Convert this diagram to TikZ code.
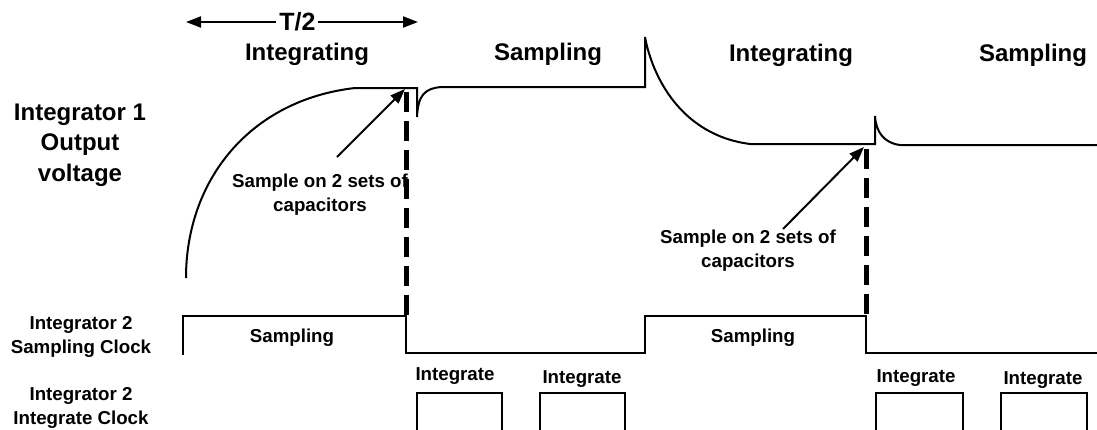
\documentclass[tikz,border=0pt]{standalone}
\usepackage{fontspec}
\setmainfont{Liberation Sans}
\usetikzlibrary{arrows.meta}

\tikzset{
  wave/.style={line width=2pt},
  clock/.style={line width=2.4pt},
  marker/.style={line width=5pt,dash pattern=on 20pt off 9pt},
  pointer/.style={line width=2pt,->},
  big/.style={font=\fontsize{24}{30.5}\selectfont\bfseries,align=center,inner sep=0pt},
  small/.style={font=\fontsize{18.7}{23.5}\selectfont\bfseries,align=center,inner sep=0pt},
}

\begin{document}
\begin{tikzpicture}[line join=miter,>={Triangle[length=15pt,width=11pt]},x=1pt,y=-1pt]
		\useasboundingbox (0,0) rectangle (1097,429);
		% half period span
		\coordinate (span0) at (186,22);
		\coordinate (span1) at (418,22);
		\draw [line width=2pt,<->] (span0) -- node[pos=0.48,fill=white,inner sep=3pt,font=\fontsize{25}{29}\selectfont\bfseries] (half) {T/2} (span1);
		% phase titles
		\node[big,anchor=base] (integ1) at (307,60) {Integrating};
		\node[big,anchor=base] (samp1) at (548,60) {Sampling};
		\node[big,anchor=base] (integ2) at (791,61) {Integrating};
		\node[big,anchor=base] (samp2) at (1033,61) {Sampling};
		% row labels (base = last line)
		\node[big,anchor=base] (outlbl) at (80,181) {Integrator 1\\Output\\voltage};
		\node[small,anchor=base] (sclklbl) at (81,353) {Integrator 2\\Sampling Clock};
		\node[small,anchor=base] (iclklbl) at (81,424) {Integrator 2\\Integrate Clock};
		% integrator 1 output
		\draw [wave] (186,278) .. controls (186,180) and (250,100) .. (355,88) -- (417,88) -- (417,117)
			.. controls (418,95) and (425,88) .. (442,87) -- (645,87) -- (645,37)
			.. controls (652,75) and (680,135) .. (750,144) -- (875,144) -- (875,116)
			.. controls (876,132) and (884,143) .. (900,145) -- (1097,145);
		% sampling instants
		\draw [marker] (406,92) -- (406,318);
		\draw [marker] (866,149) -- (866,316);
		\node[small,anchor=base] (note1) at (320,211) {Sample on 2 sets of\\capacitors};
		\node[small,anchor=base] (note2) at (748,267) {Sample on 2 sets of\\capacitors};
		\coordinate (tail1) at (337,157);
		\coordinate (tip1) at (405,89);
		\coordinate (tail2) at (783,229);
		\coordinate (tip2) at (864,147);
		\draw [pointer] (tail1) -- (tip1);
		\draw [pointer] (tail2) -- (tip2);
		% integrator 2 sampling clock
		\draw [clock] (183,355) -- (183,316) -- (406,316) -- (406,353) -- (645,353) -- (645,316) -- (866,316) -- (866,353) -- (1097,353);
		\node[small,anchor=base] (sclk1) at (292,342) {Sampling};
		\node[small,anchor=base] (sclk2) at (753,342) {Sampling};
		% integrator 2 integrate clock
		\foreach \a/\b in {417/502,540/625,876/963,1001/1087}
			\draw [clock] (\a,432) -- (\a,393) -- (\b,393) -- (\b,432);
		\node[small,anchor=base] (iclk1) at (455,380) {Integrate};
		\node[small,anchor=base] (iclk2) at (582,383) {Integrate};
		\node[small,anchor=base] (iclk3) at (916,382) {Integrate};
		\node[small,anchor=base] (iclk4) at (1043,384) {Integrate};
\end{tikzpicture}
\end{document}
